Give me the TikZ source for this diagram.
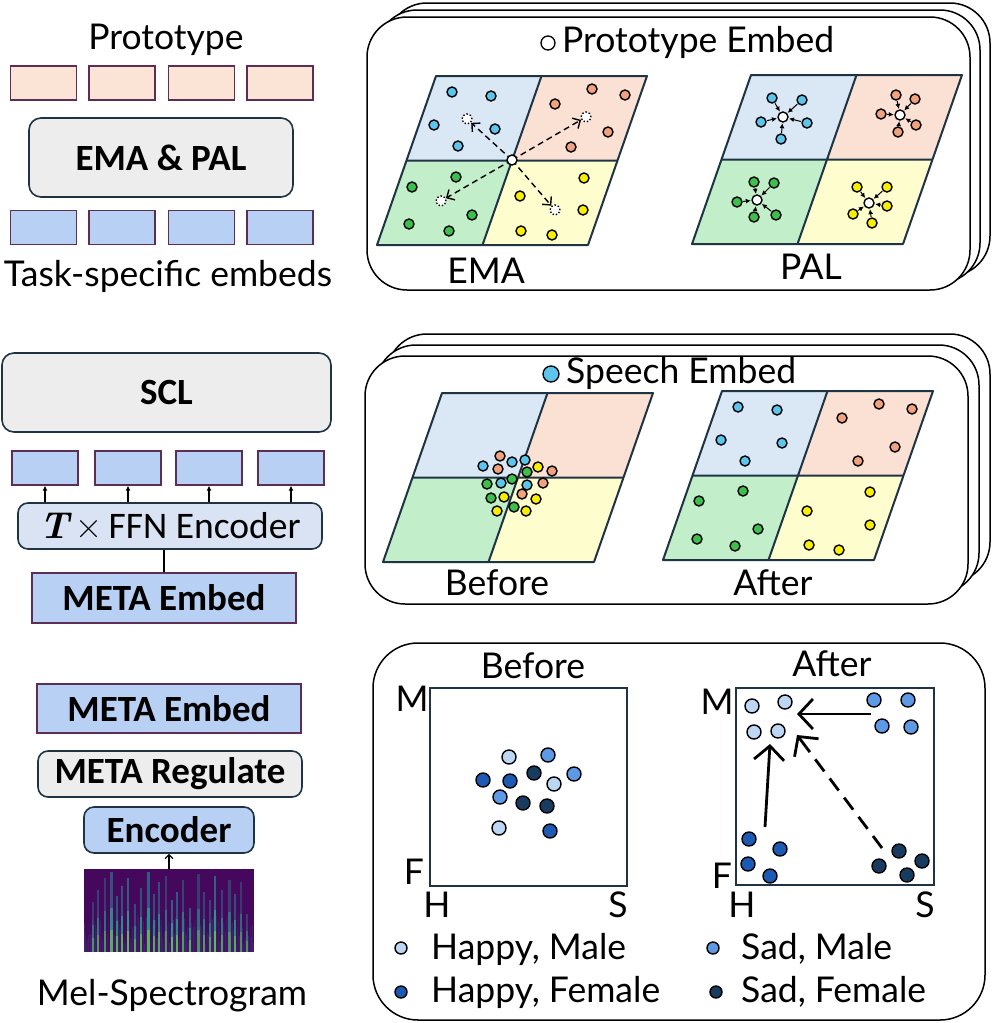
\documentclass[tikz,border=0pt]{standalone}
\usepackage{fontspec}
\setmainfont{Lato}
\newfontfamily\carl{Carlito}
\newfontfamily\lmrom{Latin Modern Roman}
\usetikzlibrary{arrows.meta}
\definecolor{pinkF}{HTML}{FBE3D6}
\definecolor{blueF}{HTML}{B7D0F3}
\definecolor{purpleE}{HTML}{5C2E55}
\definecolor{grayF}{HTML}{EDEDED}
\definecolor{darkE}{HTML}{1E3444}
\definecolor{lightBlueF}{HTML}{DAE3F3}
\definecolor{regB}{HTML}{DAE8F5}
\definecolor{regP}{HTML}{FBE1D4}
\definecolor{regG}{HTML}{C3EECA}
\definecolor{regY}{HTML}{FEFDCE}
\definecolor{dB}{HTML}{5BC5EC}
\definecolor{dP}{HTML}{F0A17E}
\definecolor{dG}{HTML}{3DBF4C}
\definecolor{dY}{HTML}{F7EE00}
\definecolor{hm}{HTML}{BDD6F3}
\definecolor{sm}{HTML}{5D9AE6}
\definecolor{hf}{HTML}{1C5AB3}
\definecolor{sf}{HTML}{183C60}
\definecolor{specbg}{HTML}{46085C}
\definecolor{vb}{HTML}{3B528B}
\definecolor{vt}{HTML}{2A788E}
\definecolor{vg}{HTML}{22A884}
\definecolor{vy}{HTML}{A0DA39}
\newcommand\paral[2]{%
  \begin{scope}[shift={(#1,#2)}]
    \fill[regB] (29.5,-84.5) -- (135,-84.5) -- (164.5,-169) -- (59,-169) -- cycle;
    \fill[regP] (135,-84.5) -- (240.5,-84.5) -- (270,-169) -- (164.5,-169) -- cycle;
    \fill[regG] (0,0) -- (105.5,0) -- (135,-84.5) -- (29.5,-84.5) -- cycle;
    \fill[regY] (105.5,0) -- (211,0) -- (240.5,-84.5) -- (135,-84.5) -- cycle;
    \draw[darkE, line width=2, line join=round] (0,0) -- (211,0) -- (270,-169) -- (59,-169) -- cycle;
    \draw[darkE, line width=2] (29.5,-84.5) -- (240.5,-84.5) (105.5,0) -- (164.5,-169);
  \end{scope}}
\begin{document}
\begin{tikzpicture}[x=1pt,y=-1pt,
  emb/.style={draw=purpleE, line width=1.3, minimum width=66, minimum height=34, inner sep=0},
  rbox/.style={draw=darkE, line width=1.6, rounded corners=12, fill=grayF, inner sep=0},
  bigtxt/.style={font=\fontsize{35.5}{40}\selectfont},
  boldtxt/.style={font=\carl\bfseries\fontsize{37}{42}\selectfont},
  pt/.style={circle, draw=black, line width=1.4, minimum size=10, inner sep=0},
  bpt/.style={circle, draw=black, line width=1.4, minimum size=14, inner sep=0},
  panel/.style={draw=black, line width=1.5, fill=white, rounded corners=40},
  pal/.style={line width=1, -{Latex[length=5pt,width=5pt]}, shorten >=0.5, shorten <=0.5},
  ema/.style={line width=1.4, dash pattern=on 6 off 4, -{Straight Barb[length=6pt,width=12pt]}},
  mv/.style={line width=2.8pt, -{Straight Barb[length=14pt,width=30pt,line width=2.8pt]}}
]
\useasboundingbox (0,0) rectangle (996,1023);

% ---------------- left column, top ----------------
\node[bigtxt] (protolbl) at (166,40) {Prototype};
\foreach \x [count=\i] in {43.5,122,201.5,280}
  \node[emb, fill=pinkF] (pr\i) at (\x,83) {};
\node[rbox, minimum width=264, minimum height=79, boldtxt] (emapal) at (161,157.5) {EMA \& PAL};
\foreach \x [count=\i] in {43.5,122,201.5,280}
  \node[emb, fill=blueF] (te\i) at (\x,227.5) {};
\node[bigtxt] (tasklbl) at (168,276) {Task-specific embeds};

% ---------------- left column, middle ----------------
\node[rbox, minimum width=329, minimum height=79, boldtxt] (scl) at (166.5,392.5) {SCL};
\foreach \x [count=\i] in {45,128,209,291}
  \node[emb, fill=blueF] (me\i) at (\x,468) {};
\node[draw=darkE, line width=1.6, rounded corners=10, fill=lightBlueF, minimum width=304, minimum height=46, inner sep=0,
      font=\carl\fontsize{37.5}{42}\selectfont] (ffn) at (170,526) {{\lmrom\bfseries\itshape T}\,{\lmrom ×}\,FFN Encoder};
\foreach \i in {1,...,4}
  \draw[line width=1.3, -{Latex[length=5pt,width=5pt]}] (ffn.north -| me\i.south) -- (me\i.south);
\node[emb, fill=blueF, minimum width=264, minimum height=50, boldtxt] (meta1) at (164,598) {META Embed};
\draw[line width=1.6] (ffn.south -| meta1.north) -- (meta1.north);

% ---------------- left column, bottom ----------------
\node[emb, fill=blueF, minimum width=264, minimum height=49, boldtxt] (meta2) at (169,708.5) {META Embed};
\node[rbox, rounded corners=10, minimum width=264, minimum height=46, boldtxt] (reg) at (170,774) {META Regulate};
\node[rbox, rounded corners=10, fill=blueF, minimum width=170, minimum height=46, boldtxt] (enc) at (169,830) {Encoder};
\node[minimum width=170, minimum height=83, inner sep=0] (spec) at (169,910.5) {};
\begin{scope}
  \clip (84,869) rectangle (254,952);
  \fill[specbg] (84,869) rectangle (254,952);
  \pgfmathsetseed{11}
  \foreach \i in {0,...,169} {
    \pgfmathsetmacro\xx{84+\i}
    \pgfmathsetmacro\hh{8+30*rnd}
    \pgfmathsetmacro\op{0.1+0.3*rnd}
    \fill[vb, opacity=\op] (\xx,952) rectangle (\xx+1,952-\hh);
  }
  \foreach \x/\h/\w in {92/50/2, 97/62/2, 104/74/2, 110/80/3, 116/56/2, 121/66/2, 127/74/2, 134/48/2, 140/64/2, 147/80/3, 153/58/2, 158/70/2, 165/76/2, 171/52/2, 176/60/2, 182/72/2, 189/44/2, 197/78/3, 203/60/2, 209/52/2, 214/76/2, 221/62/2, 228/72/3, 234/58/2, 240/70/2, 246/38/2} {
    \pgfmathsetmacro\o{0.45+0.35*rnd}
    \fill[vt, opacity=\o] (\x,952) rectangle (\x+\w,952-\h);
    \fill[vg, opacity=\o] (\x,952) rectangle (\x+\w,952-0.55*\h);
    \fill[vy, opacity=0.6*\o] (\x,952) rectangle (\x+\w,952-0.28*\h);
  }
\end{scope}
\draw[line width=1.3, -{Straight Barb[length=4pt,width=8pt]}] (spec.north) -- (enc.south);
\node[bigtxt] (mellbl) at (172,996) {Mel-Spectrogram};

% ---------------- right panels ----------------
\draw[panel] (387,3) rectangle (990,276);
\draw[panel] (377,10) rectangle (980,283);
\draw[panel] (367,17) rectangle (970,290);

\draw[panel] (387,334) rectangle (990,582);
\draw[panel] (376,345) rectangle (979,593);
\draw[panel] (365,356) rectangle (968,604);

\draw[panel, rounded corners=45] (373,643) rectangle (985,1020);

% header labels
\node[circle, draw=black, line width=1.3, fill=white, minimum size=14, inner sep=0] (protoicon) at (548,43) {};
\node[bigtxt, anchor=west, inner sep=0] (protoemb) at (562,42) {Prototype Embed};
\node[circle, draw=black, line width=1.3, fill=dB, minimum size=16, inner sep=0] (speechicon) at (551,374) {};
\node[bigtxt, anchor=west, inner sep=0] (speechemb) at (566,373) {Speech Embed};

% ---------- EMA ----------
\paral{377}{245}
\foreach \p in {(452,92),(491,96),(434,125),(495,129),(458,146)} \node[pt, fill=dB] at \p {};
\foreach \p in {(592,89),(625,95),(555,104),(608,132),(571,147)} \node[pt, fill=dP] at \p {};
\foreach \p in {(456,177),(412,187),(472,215),(409,224),(449,231)} \node[pt, fill=dG] at \p {};
\foreach \p in {(584,178),(520,196),(583,210),(521,231),(552,235)} \node[pt, fill=dY] at \p {};
\node[pt, fill=white, draw=black, dotted] (gB) at (467,119) {};
\node[pt, fill=white, draw=black, dotted] (gP) at (586,117) {};
\node[pt, fill=white, draw=black, dotted] (gG) at (441,201) {};
\node[pt, fill=white, draw=black, dotted] (gY) at (555,210) {};
\draw[ema] (512,160) -- (gB);
\draw[ema] (512,160) -- (gP);
\draw[ema] (512,160) -- (gG);
\draw[ema] (512,160) -- (gY);
\node[pt, fill=white] (c0) at (512,160) {};
\node[bigtxt] (emalbl) at (486,271) {EMA};

% ---------- PAL ----------
\paral{692}{244}
\newcommand\cluster[4]{%
  \node[pt, fill=white] (#1c) at #3 {};
  \foreach \p [count=\k] in {#4} {
    \node[pt, fill=#2] (#1s\k) at \p {};
    \draw[pal] (#1s\k) -- (#1c);
  }}
\cluster{b}{dB}{(783,117)}{(772,98),(802,100),(761,122),(807,123),(781,139)}
\cluster{p}{dP}{(900,115)}{(896,95),(915,99),(881,114),(916,125),(898,132)}
\cluster{g}{dG}{(757,200)}{(754,182),(774,183),(737,202),(754,217),(776,215)}
\cluster{y}{dY}{(869,203)}{(857,187),(887,187),(853,214),(887,206),(872,223)}
\node[bigtxt] (pallbl) at (811,267) {PAL};

% ---------- Speech Before ----------
\paral{383}{562}
\foreach \p in {(500,456),(498,469),(552,471),(543,483),(522,494)} \node[pt, fill=dP] at \p {};
\foreach \p in {(483,466),(512,462),(525,460),(501,483),(527,485)} \node[pt, fill=dB] at \p {};
\foreach \p in {(538,467),(504,497),(536,499),(497,511),(526,511)} \node[pt, fill=dY] at \p {};
\foreach \p in {(527,472),(487,484),(512,479),(491,498),(514,507)} \node[pt, fill=dG] at \p {};
\node[bigtxt] (beflbl) at (497,583) {Before};

% ---------- Speech After ----------
\paral{663}{560}
\foreach \p in {(738,407),(777,410),(721,440),(782,443),(745,461)} \node[pt, fill=dB] at \p {};
\foreach \p in {(879,404),(912,409),(842,418),(895,447),(858,461)} \node[pt, fill=dP] at \p {};
\foreach \p in {(743,491),(699,501),(758,529),(697,539),(735,546)} \node[pt, fill=dG] at \p {};
\foreach \p in {(870,492),(807,511),(870,525),(809,545),(839,550)} \node[pt, fill=dY] at \p {};
\node[bigtxt] (aftlbl) at (773,583) {After};

% ---------- bottom panel ----------
\node[bigtxt] (bef2) at (533,666) {Before};
\node[bigtxt] (aft2) at (832,664) {After};
\draw[darkE, line width=1.6] (430,688) rectangle (627,886);
\draw[darkE, line width=1.6] (736,688) rectangle (934,885);
\node[bigtxt] (m1) at (412,699) {M};
\node[bigtxt] (f1) at (414,872) {F};
\node[bigtxt] (h1) at (437,905) {H};
\node[bigtxt] (s1) at (618,905) {S};
\node[bigtxt] (m2) at (717,702) {M};
\node[bigtxt] (f2) at (722,876) {F};
\node[bigtxt] (h2) at (742,905) {H};
\node[bigtxt] (s2) at (925,905) {S};

\foreach \p in {(509,757),(554,784),(499,828)} \node[bpt, fill=hm] at \p {};
\foreach \p in {(548,755),(574,774),(500,797)} \node[bpt, fill=sm] at \p {};
\foreach \p in {(483,780),(510,781),(550,831)} \node[bpt, fill=hf] at \p {};
\foreach \p in {(534,773),(523,803),(547,806)} \node[bpt, fill=sf] at \p {};

\foreach \p in {(752,706),(785,702),(754,732),(778,731)} \node[bpt, fill=hm] at \p {};
\foreach \p in {(874,700),(908,700),(882,726),(911,727)} \node[bpt, fill=sm] at \p {};
\foreach \p in {(749,839),(780,849),(748,864),(770,876)} \node[bpt, fill=hf] at \p {};
\foreach \p in {(899,851),(922,861),(879,866),(907,875)} \node[bpt, fill=sf] at \p {};

\coordinate (a1s) at (871,714); \coordinate (a1e) at (797,714);
\coordinate (a2s) at (765,827); \coordinate (a2e) at (770,744);
\coordinate (a3s) at (882,848); \coordinate (a3m) at (806,747); \coordinate (a3e) at (797,735);
\draw[mv] (a1s) -- (a1e);
\draw[mv] (a2s) -- (a2e);
\draw[line width=2.8pt, dash pattern=on 15pt off 9pt] (a3s) -- (a3m);
\draw[mv] (a3m) -- (a3e);

% legend
\node[bpt, minimum size=12, fill=hm] (lg1) at (401,948) {};
\node[bpt, minimum size=12, fill=hf] (lg2) at (401,992) {};
\node[bpt, minimum size=12, fill=sm] (lg3) at (713,948) {};
\node[bpt, minimum size=12, fill=sf] (lg4) at (716,992) {};
\node[bigtxt, anchor=west, inner sep=0] (lt1) at (431,949) {Happy, Male};
\node[bigtxt, anchor=west, inner sep=0] (lt2) at (431,992) {Happy, Female};
\node[bigtxt, anchor=west, inner sep=0] (lt3) at (741,949) {Sad, Male};
\node[bigtxt, anchor=west, inner sep=0] (lt4) at (741,992) {Sad, Female};
\end{tikzpicture}
\end{document}
